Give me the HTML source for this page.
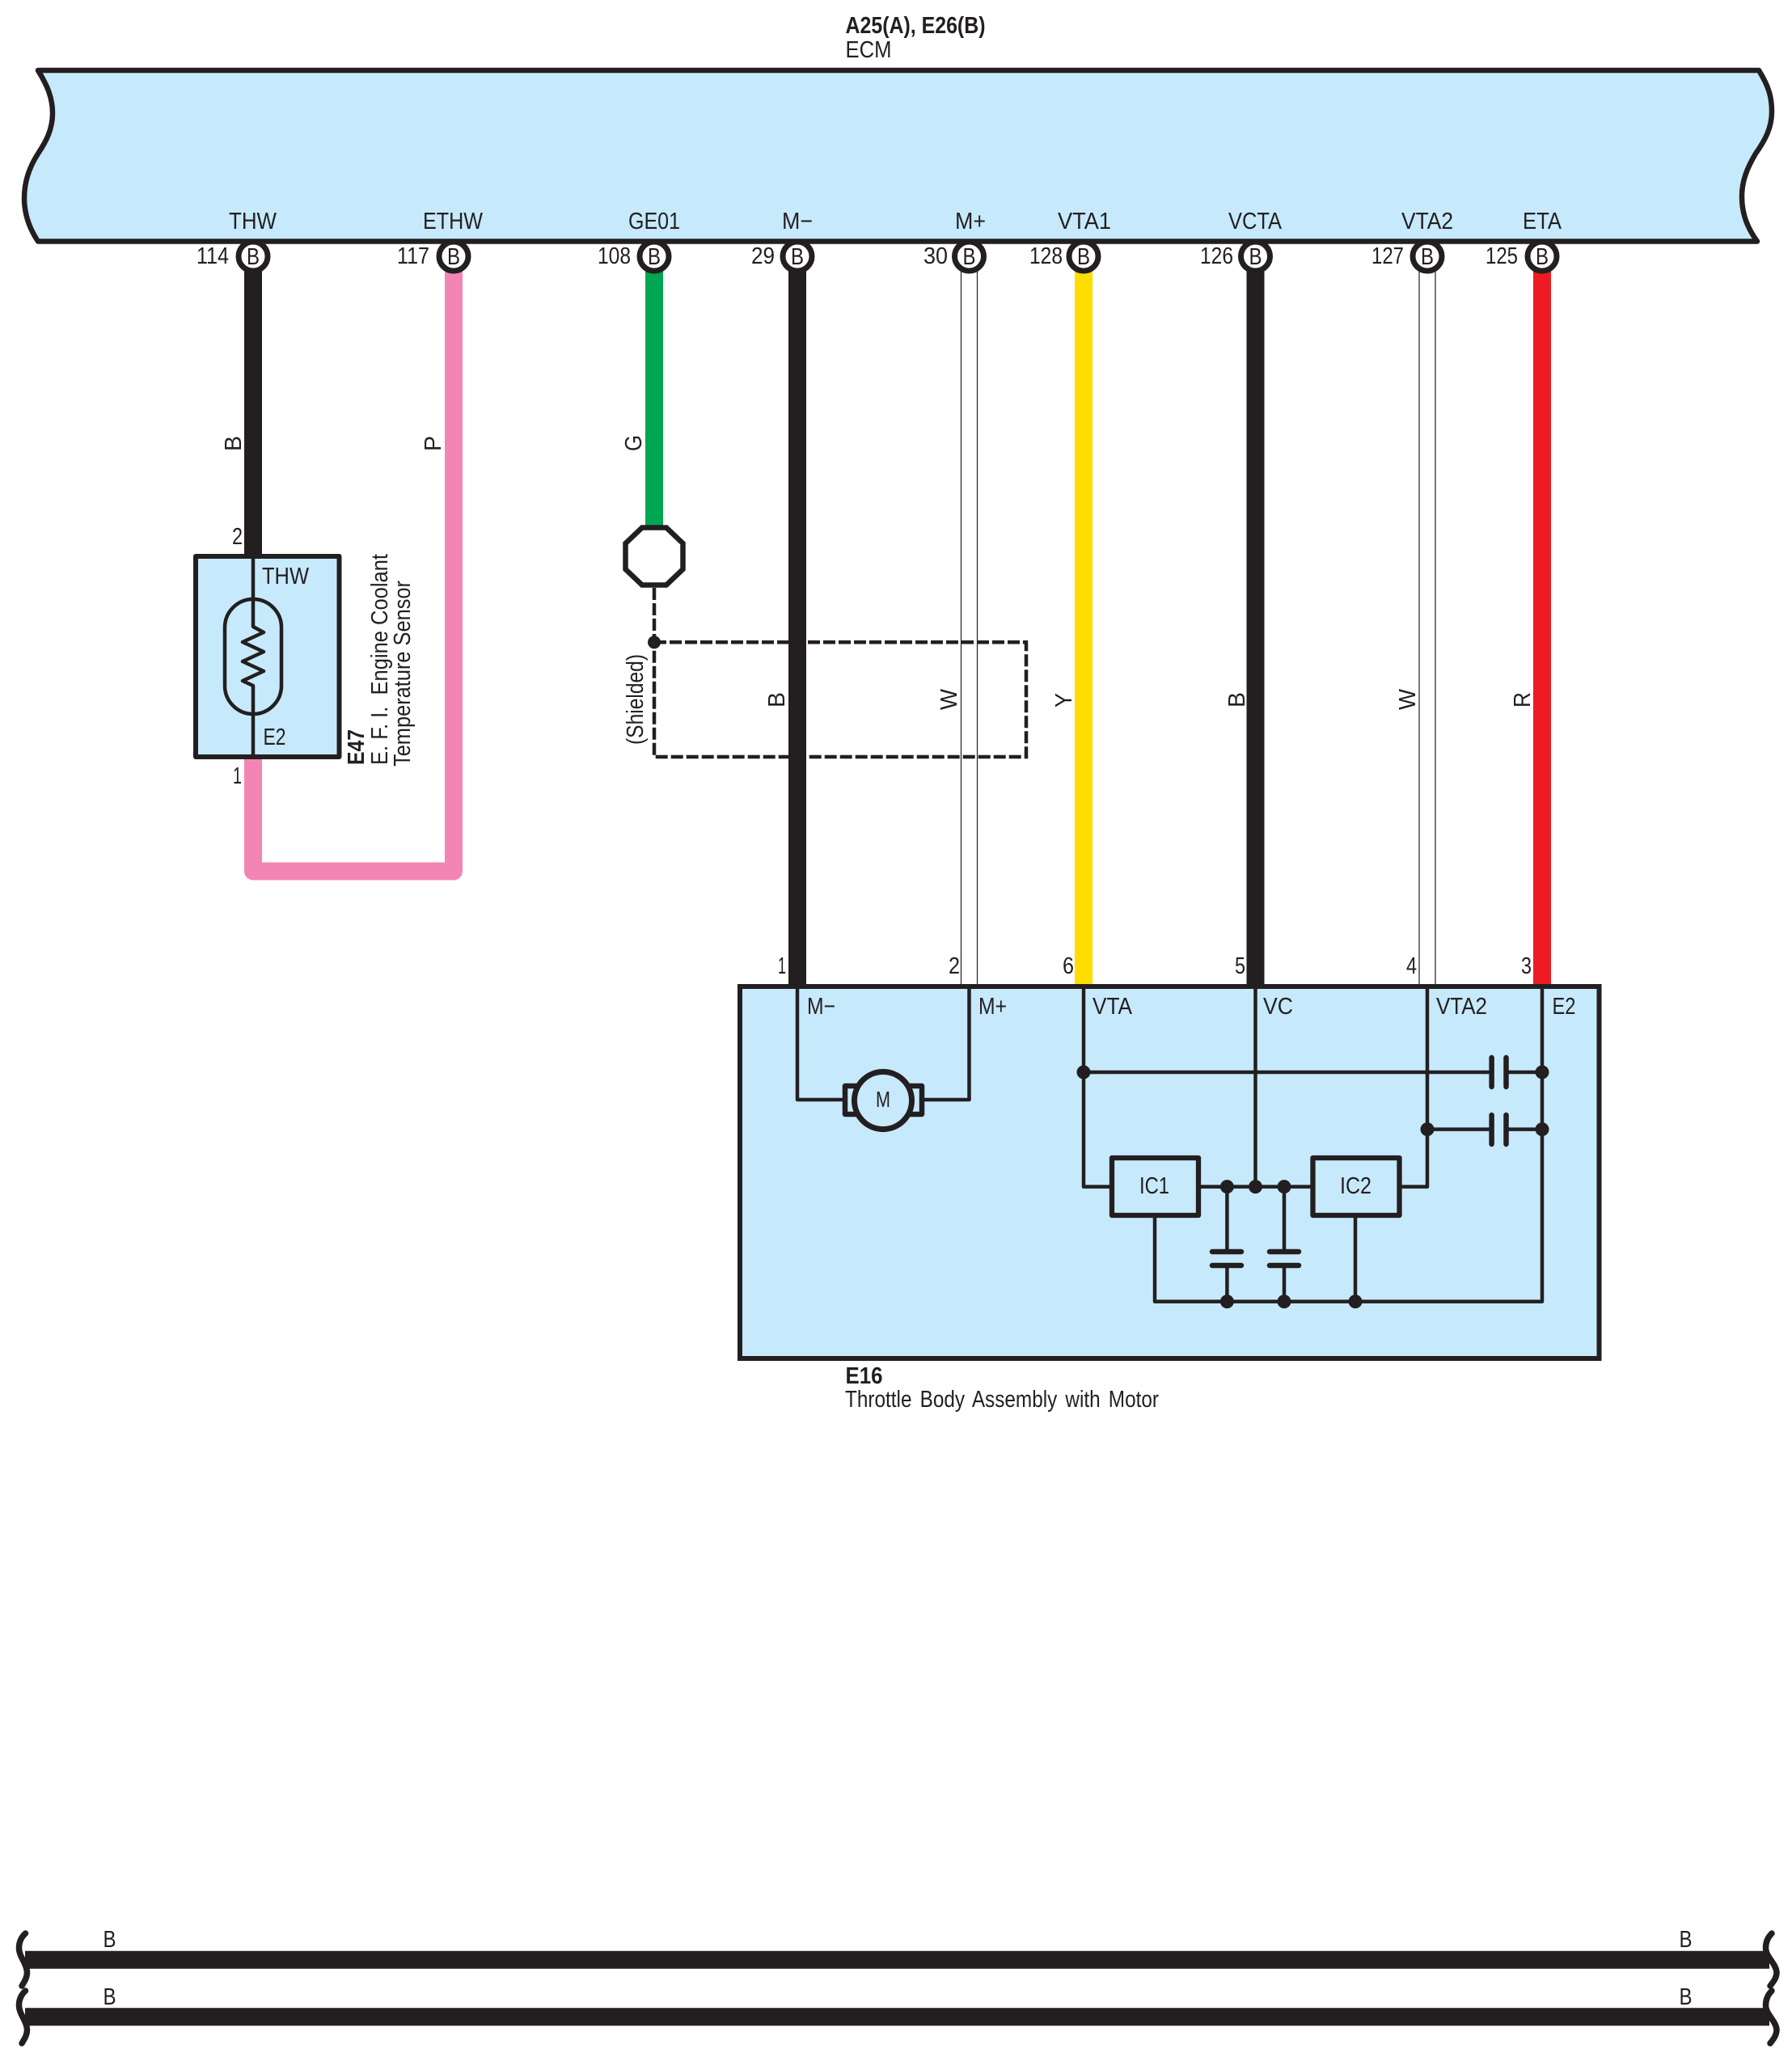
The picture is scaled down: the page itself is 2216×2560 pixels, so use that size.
<!DOCTYPE html>
<html><head><meta charset="utf-8"><title>Wiring diagram</title>
<style>
html,body{margin:0;padding:0;background:#fff}
svg{display:block}
text{font-family:"Liberation Sans",sans-serif;font-size:29px;fill:#231f20}
.b{font-weight:bold}
.l{fill:none;stroke:#231f20;stroke-width:4.500;stroke-linejoin:round}
.d{fill:#231f20;stroke:none}
.w{fill:none;stroke-width:22}
.t{fill:#fff;stroke:#231f20;stroke-width:7}
.p{fill:none;stroke:#231f20;stroke-width:6.500;stroke-linecap:round}
</style></head><body>
<svg xmlns="http://www.w3.org/2000/svg" width="2216" height="2560" viewBox="0 0 2216 2560">
<rect width="2216" height="2560" fill="#fff"/>

<text class="b" x="1045.500" y="41" textLength="173" lengthAdjust="spacingAndGlyphs">A25(A), E26(B)</text>
<text x="1045.500" y="71" textLength="57" lengthAdjust="spacingAndGlyphs">ECM</text>

<!-- ECM -->
<path d="M47 87 C58 105 65 120 65 140 C65 160 57 175 47 190 C36 207 30 225 30 245 C30 265 36 282 47 298.500 L2173 298.500 C2161 282 2154 265 2154 243 C2154 223 2161 207 2171 190 C2183 173 2191 158 2191 138 C2191 118 2186 105 2175 87 Z" fill="#c7e9fc" stroke="#231f20" stroke-width="6.500" stroke-linejoin="round"/>
<text x="283" y="283" textLength="59" lengthAdjust="spacingAndGlyphs">THW</text>
<text x="523" y="283" textLength="74" lengthAdjust="spacingAndGlyphs">ETHW</text>
<text x="777" y="283" textLength="64" lengthAdjust="spacingAndGlyphs">GE01</text>
<text x="967" y="283" textLength="38" lengthAdjust="spacingAndGlyphs">M−</text>
<text x="1181" y="283" textLength="38" lengthAdjust="spacingAndGlyphs">M+</text>
<text x="1308" y="283" textLength="66" lengthAdjust="spacingAndGlyphs">VTA1</text>
<text x="1519" y="283" textLength="66" lengthAdjust="spacingAndGlyphs">VCTA</text>
<text x="1733" y="283" textLength="64" lengthAdjust="spacingAndGlyphs">VTA2</text>
<text x="1883" y="283" textLength="48" lengthAdjust="spacingAndGlyphs">ETA</text>

<!-- Wires -->
<path class="w" stroke="#231f20" d="M313 335V690"/>
<path class="w" stroke="#f385b5" stroke-linejoin="round" d="M313 936V1077.500H561V335"/>
<path class="w" stroke="#00a651" d="M809 335V652"/>
<path class="w" stroke="#231f20" d="M986 335V1220"/>
<path class="w" stroke="#ffdd00" d="M1340 335V1220"/>
<path class="w" stroke="#231f20" d="M1552.500 335V1220"/>
<path class="w" stroke="#ed1c24" d="M1907 335V1220"/>
<path fill="none" stroke="#231f20" stroke-width="1.200" d="M1188.500 335V1220M1208.500 335V1220M1755 335V1220M1775 335V1220"/>

<!-- Terminals -->
<circle class="t" cx="313" cy="317" r="18"/><circle class="t" cx="561" cy="317" r="18"/><circle class="t" cx="809" cy="317" r="18"/><circle class="t" cx="986" cy="317" r="18"/><circle class="t" cx="1198.500" cy="317" r="18"/><circle class="t" cx="1340" cy="317" r="18"/><circle class="t" cx="1552.500" cy="317" r="18"/><circle class="t" cx="1765" cy="317" r="18"/><circle class="t" cx="1907" cy="317" r="18"/>
<text x="305" y="327" textLength="16" lengthAdjust="spacingAndGlyphs">B</text>
<text x="553" y="327" textLength="16" lengthAdjust="spacingAndGlyphs">B</text>
<text x="801" y="327" textLength="16" lengthAdjust="spacingAndGlyphs">B</text>
<text x="978" y="327" textLength="16" lengthAdjust="spacingAndGlyphs">B</text>
<text x="1190.500" y="327" textLength="16" lengthAdjust="spacingAndGlyphs">B</text>
<text x="1332" y="327" textLength="16" lengthAdjust="spacingAndGlyphs">B</text>
<text x="1544.500" y="327" textLength="16" lengthAdjust="spacingAndGlyphs">B</text>
<text x="1757" y="327" textLength="16" lengthAdjust="spacingAndGlyphs">B</text>
<text x="1899" y="327" textLength="16" lengthAdjust="spacingAndGlyphs">B</text>
<text x="243" y="326" textLength="40" lengthAdjust="spacingAndGlyphs">114</text>
<text x="491" y="326" textLength="40" lengthAdjust="spacingAndGlyphs">117</text>
<text x="739" y="326" textLength="41" lengthAdjust="spacingAndGlyphs">108</text>
<text x="929" y="326" textLength="29" lengthAdjust="spacingAndGlyphs">29</text>
<text x="1142" y="326" textLength="30" lengthAdjust="spacingAndGlyphs">30</text>
<text x="1273" y="326" textLength="41" lengthAdjust="spacingAndGlyphs">128</text>
<text x="1484" y="326" textLength="41" lengthAdjust="spacingAndGlyphs">126</text>
<text x="1696" y="326" textLength="40" lengthAdjust="spacingAndGlyphs">127</text>
<text x="1837" y="326" textLength="40" lengthAdjust="spacingAndGlyphs">125</text>

<!-- Wire colour labels -->
<text transform="translate(298,558) rotate(-90)" textLength="19" lengthAdjust="spacingAndGlyphs">B</text>
<text transform="translate(545,558) rotate(-90)" textLength="19" lengthAdjust="spacingAndGlyphs">P</text>
<text transform="translate(793,558) rotate(-90)" textLength="20" lengthAdjust="spacingAndGlyphs">G</text>
<text transform="translate(795,921) rotate(-90)" textLength="112" lengthAdjust="spacingAndGlyphs">(Shielded)</text>
<text transform="translate(970,875) rotate(-90)" textLength="19" lengthAdjust="spacingAndGlyphs">B</text>
<text transform="translate(1183,878) rotate(-90)" textLength="26" lengthAdjust="spacingAndGlyphs">W</text>
<text transform="translate(1325,875) rotate(-90)" textLength="18" lengthAdjust="spacingAndGlyphs">Y</text>
<text transform="translate(1539,875) rotate(-90)" textLength="19" lengthAdjust="spacingAndGlyphs">B</text>
<text transform="translate(1750,878) rotate(-90)" textLength="26" lengthAdjust="spacingAndGlyphs">W</text>
<text transform="translate(1892,875) rotate(-90)" textLength="19" lengthAdjust="spacingAndGlyphs">R</text>

<!-- E47 -->
<rect x="242" y="688" width="177.500" height="248" fill="#c7e9fc" stroke="#231f20" stroke-width="6" stroke-linejoin="round"/>
<rect x="278" y="741" width="70" height="142" rx="35" ry="35" fill="none" stroke="#231f20" stroke-width="4.500"/>
<path class="l" d="M313 688V775L326 782L300 794L326 806L300 818L326 830L300 842L313 848V936"/>
<text x="324" y="722" textLength="58" lengthAdjust="spacingAndGlyphs">THW</text>
<text x="325.500" y="921" textLength="28" lengthAdjust="spacingAndGlyphs">E2</text>
<text x="287" y="673" textLength="13" lengthAdjust="spacingAndGlyphs">2</text>
<text x="288" y="969" textLength="11" lengthAdjust="spacingAndGlyphs">1</text>
<text class="b" transform="translate(450,946) rotate(-90)" textLength="44" lengthAdjust="spacingAndGlyphs">E47</text>
<text transform="translate(479,946) rotate(-90)" textLength="261" lengthAdjust="spacingAndGlyphs">E. F. I.&#160; Engine Coolant</text>
<text transform="translate(507,948) rotate(-90)" textLength="230" lengthAdjust="spacingAndGlyphs">Temperature Sensor</text>

<!-- Shield -->
<polygon points="794,652.500 824,652.500 844.500,672 844.500,704 824,723.500 794,723.500 773.500,704 773.500,672" fill="#fff" stroke="#231f20" stroke-width="6.500"/>
<path d="M809 727V794.300" fill="none" stroke="#231f20" stroke-width="4.500" stroke-dasharray="15 4"/>
<path d="M809 794.300H1269V936H809Z" fill="none" stroke="#231f20" stroke-width="4.500" stroke-dasharray="15 4"/>
<circle class="d" cx="809" cy="794.300" r="8"/>

<!-- E16 -->
<rect x="915" y="1220" width="1062.500" height="460" fill="#c7e9fc" stroke="#231f20" stroke-width="6"/>
<text x="962" y="1204" textLength="10" lengthAdjust="spacingAndGlyphs">1</text>
<text x="1173" y="1204" textLength="14" lengthAdjust="spacingAndGlyphs">2</text>
<text x="1314" y="1204" textLength="14" lengthAdjust="spacingAndGlyphs">6</text>
<text x="1527" y="1204" textLength="13" lengthAdjust="spacingAndGlyphs">5</text>
<text x="1739" y="1204" textLength="13" lengthAdjust="spacingAndGlyphs">4</text>
<text x="1881" y="1204" textLength="13" lengthAdjust="spacingAndGlyphs">3</text>
<text x="998" y="1254" textLength="35" lengthAdjust="spacingAndGlyphs">M−</text>
<text x="1210" y="1254" textLength="35" lengthAdjust="spacingAndGlyphs">M+</text>
<text x="1351" y="1254" textLength="49" lengthAdjust="spacingAndGlyphs">VTA</text>
<text x="1562" y="1254" textLength="37" lengthAdjust="spacingAndGlyphs">VC</text>
<text x="1776" y="1254" textLength="63" lengthAdjust="spacingAndGlyphs">VTA2</text>
<text x="1919.500" y="1254" textLength="29" lengthAdjust="spacingAndGlyphs">E2</text>

<!-- Motor -->
<path class="l" d="M986 1220V1360H1044M1140 1360H1198.500V1220"/>
<rect x="1045" y="1343" width="95" height="35" fill="#c7e9fc" stroke="#231f20" stroke-width="6.500" stroke-linejoin="round"/>
<circle cx="1092" cy="1361" r="35.500" fill="#c7e9fc" stroke="#231f20" stroke-width="7"/>
<text x="1083" y="1369" style="font-size:28px" textLength="18" lengthAdjust="spacingAndGlyphs">M</text>

<!-- Circuit -->
<path class="l" d="M1340 1220V1467.600H1375"/>
<path class="l" d="M1340 1326H1844.600M1862.500 1326H1907"/>
<path class="l" d="M1552.500 1220V1467.600"/>
<path class="l" d="M1765 1220V1467.600H1730"/>
<path class="l" d="M1765 1396.600H1844.600M1862.500 1396.600H1907"/>
<path class="l" d="M1907 1220V1609.600H1428V1503"/>
<path class="l" d="M1482 1467.600H1623.500"/>
<path class="l" d="M1517.400 1467.600V1548M1517.400 1565V1609.600M1588 1467.600V1548M1588 1565V1609.600M1676 1503V1609.600"/>
<path class="p" d="M1844.600 1308V1344M1862.500 1308V1344M1844.600 1379V1415M1862.500 1379V1415M1499 1548H1535M1499 1565H1535M1570 1548H1606M1570 1565H1606"/>
<rect x="1375" y="1432" width="107" height="71" fill="#c7e9fc" stroke="#231f20" stroke-width="6.300" stroke-linejoin="round"/>
<rect x="1623.500" y="1432" width="107" height="71" fill="#c7e9fc" stroke="#231f20" stroke-width="6.300" stroke-linejoin="round"/>
<text x="1409" y="1476" textLength="37" lengthAdjust="spacingAndGlyphs">IC1</text>
<text x="1657" y="1476" textLength="39" lengthAdjust="spacingAndGlyphs">IC2</text>
<circle class="d" cx="1340" cy="1326" r="8.500"/><circle class="d" cx="1907" cy="1326" r="8.500"/><circle class="d" cx="1765" cy="1396.600" r="8.500"/><circle class="d" cx="1907" cy="1396.600" r="8.500"/><circle class="d" cx="1517.400" cy="1467.600" r="8.500"/><circle class="d" cx="1552.500" cy="1467.600" r="8.500"/><circle class="d" cx="1588" cy="1467.600" r="8.500"/><circle class="d" cx="1517.400" cy="1609.600" r="8.500"/><circle class="d" cx="1588" cy="1609.600" r="8.500"/><circle class="d" cx="1676" cy="1609.600" r="8.500"/>
<text class="b" x="1045.500" y="1711" textLength="46" lengthAdjust="spacingAndGlyphs">E16</text>
<text x="1045" y="1740" textLength="388" lengthAdjust="spacingAndGlyphs" style="word-spacing:4px">Throttle Body Assembly with Motor</text>

<!-- Bottom ground wires -->
<path fill="none" stroke="#231f20" stroke-width="22" d="M31 2423.700H2188M31 2494.200H2188"/>
<g fill="none" stroke="#231f20" stroke-width="7.500" stroke-linecap="round">
<path d="M31.500 2391C26 2396 23.500 2402 23.500 2409C23.500 2420 33 2428 33.500 2439C33.500 2446 30 2451 27 2456"/>
<path d="M31.500 2462C26 2467 23.500 2473 23.500 2480C23.500 2491 33 2499 33.500 2510C33.500 2517 30 2522 27 2527"/>
<path d="M2191 2391C2186 2396 2183.500 2402 2183.500 2409C2183.500 2420 2196 2428 2197 2439C2197 2446 2193 2451 2189 2456"/>
<path d="M2191 2462C2186 2467 2183.500 2473 2183.500 2480C2183.500 2491 2196 2499 2197 2510C2197 2517 2193 2522 2189 2527"/>
</g>
<text x="127.500" y="2408" textLength="16" lengthAdjust="spacingAndGlyphs">B</text>
<text x="127.500" y="2479" textLength="16" lengthAdjust="spacingAndGlyphs">B</text>
<text x="2076.500" y="2408" textLength="16" lengthAdjust="spacingAndGlyphs">B</text>
<text x="2076.500" y="2479" textLength="16" lengthAdjust="spacingAndGlyphs">B</text>
</svg>
</body></html>
